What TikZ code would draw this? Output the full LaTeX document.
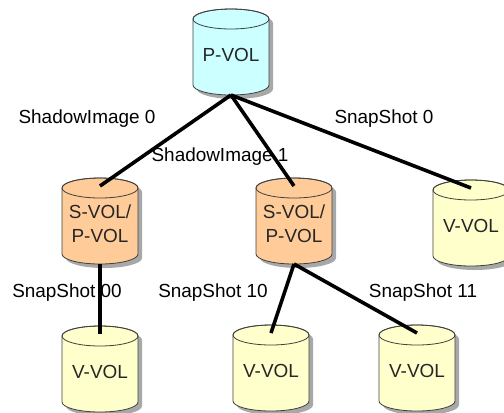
\documentclass[tikz,border=0pt]{standalone}
\usepackage{fontspec}
\setmainfont{Liberation Sans}
\definecolor{pcol}{HTML}{CCFFFF}
\definecolor{scol}{HTML}{FFCC99}
\definecolor{vcol}{HTML}{FFFFCC}
\definecolor{edgecol}{HTML}{404040}
\definecolor{shadcol}{HTML}{A8A8A8}
\tikzset{
  lbl/.style={font=\fontsize{19}{24}\selectfont, inner sep=0pt},
  link/.style={line width=3.6bp, black},
  pics/vol/.style 2 args={code={
    \fill[shadcol] (-34,-29) -- (-34,37) arc[start angle=180,end angle=0,x radius=38,y radius=10]
       -- (42,-29) arc[start angle=0,end angle=-180,x radius=38,y radius=10] -- cycle;
    \filldraw[fill=#2, draw=edgecol, line width=0.8bp] (-38,-33) -- (-38,33)
       arc[start angle=180,end angle=0,x radius=38,y radius=10]
       -- (38,-33) arc[start angle=0,end angle=-180,x radius=38,y radius=10] -- cycle;
    \draw[edgecol, line width=0.8bp] (0,-33) ellipse[x radius=38, y radius=10];
    \node[lbl, align=center, text=black!85] (-t) at (0,3) {#1};
    \coordinate (-in) at (0,-35);
    \coordinate (-out) at (0,43);
  }}
}
\begin{document}
\begin{tikzpicture}[x=1bp,y=-1bp]
\useasboundingbox (0,0) rectangle (504,412);
\clip (0,0) rectangle (504,412);
\pic (p) at (231,52) {vol={P-VOL}{pcol}};
\pic (sl) at (100,221) {vol={S-VOL/\\P-VOL}{scol}};
\pic (sm) at (294,221) {vol={S-VOL/\\P-VOL}{scol}};
\pic (vr) at (471,223) {vol={V-VOL}{vcol}};
\pic (vbl) at (100,369) {vol={V-VOL}{vcol}};
\pic (vbm) at (271,368) {vol={V-VOL}{vcol}};
\pic (vbr) at (417,368) {vol={V-VOL}{vcol}};
\draw[link] (p-out) -- (sl-in);
\draw[link] (p-out) -- (sm-in);
\draw[link] (p-out) -- (vr-in);
\draw[link] (sl-out) -- (vbl-in);
\draw[link] (sm-out) -- (vbm-in);
\draw[link] (sm-out) -- (vbr-in);
\node[lbl] (l1) at (87,119) {ShadowImage 0};
\node[lbl] (l2) at (220,157) {ShadowImage 1};
\node[lbl] (l3) at (384,119) {SnapShot 0};
\node[lbl] (l4) at (67,293) {SnapShot 00};
\node[lbl] (l5) at (213,293) {SnapShot 10};
\node[lbl] (l6) at (423,293) {SnapShot 11};
\end{tikzpicture}
\end{document}
